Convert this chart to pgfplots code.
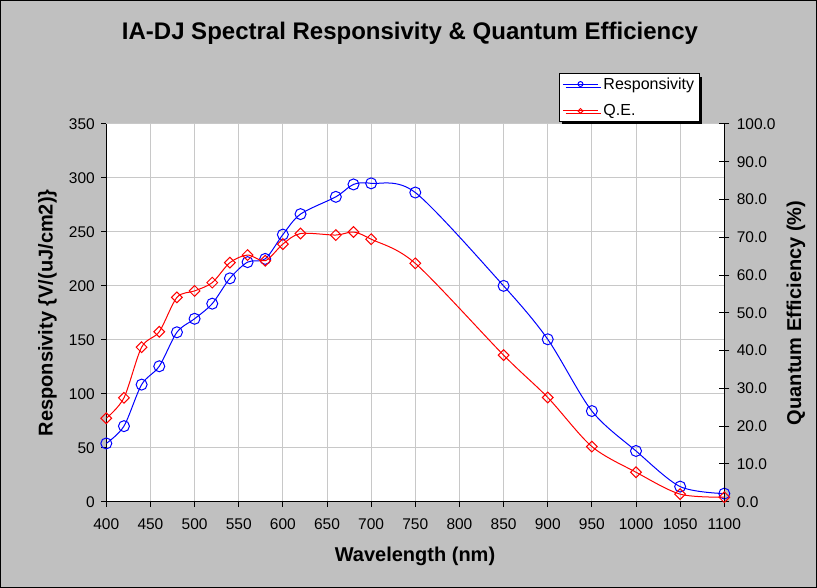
\documentclass[border=0pt]{standalone}
\usepackage{fontspec}
\setmainfont{Liberation Sans}
\usepackage{pgfplots}
\pgfplotsset{compat=1.18}
\usetikzlibrary{shadows}
\definecolor{bg}{RGB}{192,192,192}
\definecolor{gridc}{RGB}{200,200,200}
\definecolor{rblue}{RGB}{0,0,255}
\definecolor{rred}{RGB}{255,0,0}
\pgfplotsset{
  chartbase/.style={
    at={(106.3pt,86.3pt)}, anchor=south west,
    width=618pt, height=377.7pt, scale only axis,
    xmin=400, xmax=1100,
    axis line style={black, line width=1pt, -},
    tick style={black, line width=1pt},
    /pgf/number format/assume math mode=true,
    /pgf/number format/set thousands separator={},
    tick label style={font=\fontsize{15.5}{18}\selectfont},
    label style={font=\fontsize{20}{24}\selectfont\bfseries},
  },
  legend image code/.code={
    \draw[#1] (0pt,0pt) -- (35pt,0pt);
    \draw[#1, every mark/.append style={scale=0.45}] plot coordinates {(17.5pt,0pt)};
  },
}
\begin{document}
\begin{tikzpicture}[x=1pt,y=1pt]
\fill[bg] (0,0) rectangle (817,588);
\draw[black, line width=1pt] (0.5,0.5) rectangle (816.5,587.5);
\node[font=\fontsize{24}{28}\selectfont\bfseries] at (410,555) {IA-DJ Spectral Responsivity \& Quantum Efficiency};
\begin{axis}[
  chartbase,
  ymin=0, ymax=350,
  xtick={400,450,...,1100}, ytick={0,50,...,350},
  axis x line*=bottom, axis y line*=left,
  grid=major, major grid style={gridc, line width=1pt},
  tick align=outside, major tick length=5pt,
  xticklabel shift=8pt, yticklabel shift=3pt,
  axis background/.style={fill=white},
  xlabel={Wavelength (nm)},
  ylabel={Responsivity \{V/(uJ/cm2)\}},
  xlabel style={at={(axis description cs:0.4995,-0.1438)}, anchor=center},
  ylabel style={at={(axis description cs:-0.0951,0.5)}, anchor=center},
]
\addplot[rblue, line width=1pt, smooth, mark=o, mark size=5.5pt] coordinates {
(400,54) (420,70) (440,108.5) (460,125.5) (480,157) (500,169.5) (520,183.5)
(540,207) (560,222) (580,225) (600,247.5) (620,266.5) (660,282.5) (680,294)
(700,295) (750,286.5) (850,200) (900,150.5) (950,84) (1000,47) (1050,14) (1100,7.5)
};
\end{axis}
\begin{axis}[
  chartbase,
  ymin=0, ymax=100,
  axis x line=none, axis y line*=right,
  ytick={0,10,...,100},
  yticklabel style={/pgf/number format/fixed, /pgf/number format/fixed zerofill, /pgf/number format/precision=1},
  tick align=center, major tick length=10pt,
  yticklabel shift=4pt,
  ylabel={Quantum Efficiency (\%)},
  ylabel style={at={(axis description cs:1.116,0.5)}, anchor=center},
  legend style={at={(axis description cs:0.7325,1.135)}, anchor=north west,
    draw=black, line width=1pt, fill=white, font=\fontsize{16}{19}\selectfont,
    legend cell align=left, row sep=10pt, inner xsep=3pt, inner ysep=2pt,
    /tikz/every odd column/.append style={column sep=3pt},
    drop shadow={shadow xshift=3pt, shadow yshift=-3pt, opacity=1, fill=black}},
]
\addlegendimage{rblue, line width=1pt, mark=o, mark size=5.5pt}
\addlegendentry{Responsivity}
\addplot[rred, line width=1pt, smooth, mark=square, mark size=3.8pt, mark options={rotate=45}] coordinates {
(400,22.1) (420,27.5) (440,40.9) (460,45.0) (480,54.1) (500,55.8) (520,58.0)
(540,63.3) (560,65.3) (580,63.8) (600,68.2) (620,71.0) (660,70.6) (680,71.4)
(700,69.5) (750,63.1) (850,38.8) (900,27.6) (950,14.6) (1000,7.8) (1050,2.0) (1100,1.2)
};
\addlegendentry{Q.E.}
\end{axis}
\pgfresetboundingbox
\path (0,0) rectangle (817,588);
\end{tikzpicture}
\end{document}
